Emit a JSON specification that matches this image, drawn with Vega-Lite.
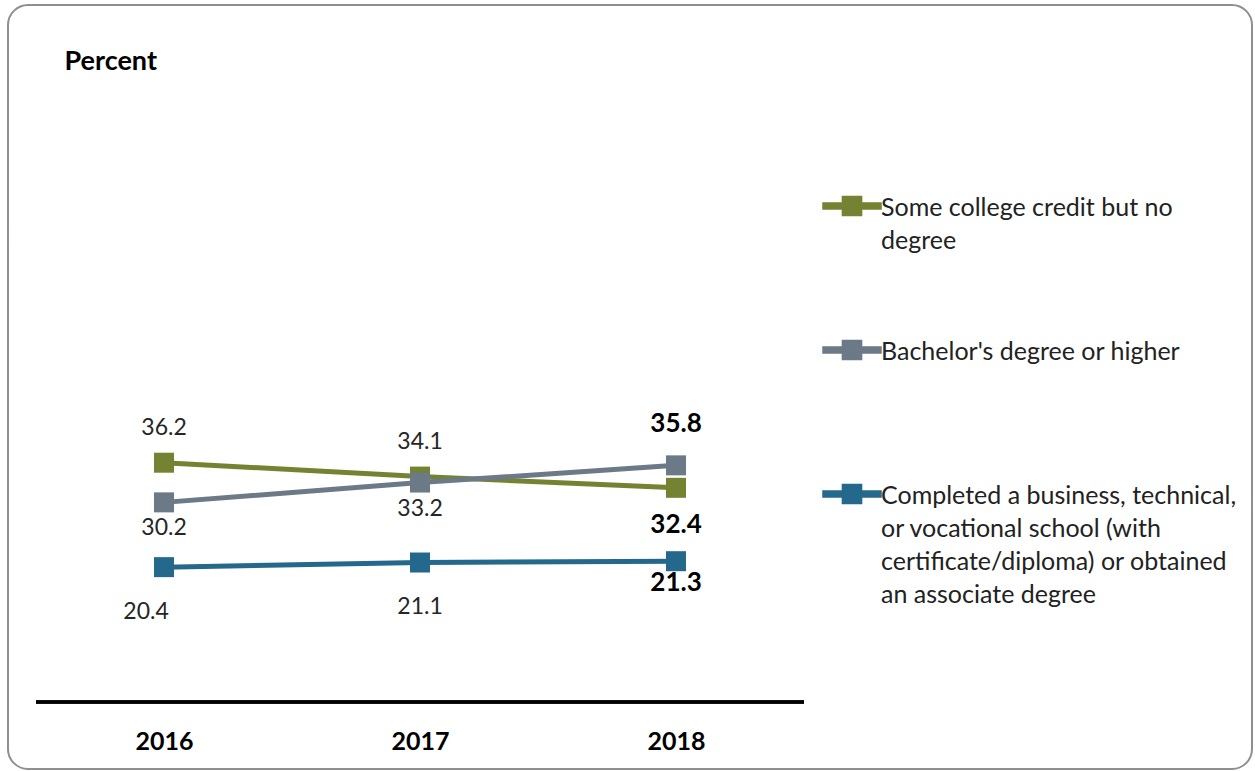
{
  "$schema": "https://vega.github.io/schema/vega-lite/v6.json",
  "autosize": "none",
  "width": 1244,
  "height": 764,
  "padding": {"left": 8, "top": 5, "right": 3, "bottom": 2},
  "background": "white",
  "config": {
    "view": {"stroke": "#8f8f8f", "strokeWidth": 2, "cornerRadius": 20},
    "font": "Lato"
  },
  "data": {
    "values": [
      {"series": "Some college credit but no degree", "year": 2016, "pct": 36.2},
      {"series": "Some college credit but no degree", "year": 2017, "pct": 34.1},
      {"series": "Some college credit but no degree", "year": 2018, "pct": 32.4},
      {"series": "Bachelor's degree or higher", "year": 2016, "pct": 30.2},
      {"series": "Bachelor's degree or higher", "year": 2017, "pct": 33.2},
      {"series": "Bachelor's degree or higher", "year": 2018, "pct": 35.8},
      {"series": "Completed a business, technical, or vocational school (with certificate/diploma) or obtained an associate degree", "year": 2016, "pct": 20.4},
      {"series": "Completed a business, technical, or vocational school (with certificate/diploma) or obtained an associate degree", "year": 2017, "pct": 21.1},
      {"series": "Completed a business, technical, or vocational school (with certificate/diploma) or obtained an associate degree", "year": 2018, "pct": 21.3}
    ]
  },
  "encoding": {
    "x": {
      "field": "year", "type": "quantitative",
      "scale": {"domain": [2015.3906, 2020.25], "nice": false, "zero": false},
      "axis": {"values": [2016, 2017, 2018], "format": "d", "title": null, "domain": false, "ticks": false, "grid": false,
               "labelFont": "Lato", "labelFontWeight": "bold", "labelFontSize": 25, "labelColor": "#000000",
               "labelBaseline": "middle", "labelPadding": -28}
    },
    "y": {
      "field": "pct", "type": "quantitative",
      "scale": {"domain": [-10.14, 105.45], "nice": false, "zero": false},
      "axis": {"title": "Percent", "domain": false, "ticks": false, "labels": false, "grid": false,
               "titleAngle": 0, "titleAlign": "left", "titleBaseline": "middle", "titleX": 56, "titleY": 56,
               "titleFont": "Lato", "titleFontSize": 27, "titleFontWeight": "bold", "titleColor": "#000000"}
    },
    "color": {
      "field": "series", "type": "nominal",
      "scale": {
        "domain": ["Some college credit but no degree", "Bachelor's degree or higher", "Completed a business, technical, or vocational school (with certificate/diploma) or obtained an associate degree"],
        "range": ["#748332", "#6C7987", "#24688B"]
      },
      "legend": {
        "orient": "none", "legendX": 814, "legendY": 171, "title": null, "padding": 0,
        "symbolType": "M-1,-0.1H1V0.1H-1Z M-0.33,-0.33H0.33V0.33H-0.33Z",
        "symbolSize": 3364,
        "labelFont": "Lato", "labelFontSize": 25, "labelColor": "#222222", "labelOffset": -1, "labelLimit": 500,
        "labelBaseline": "top", "gridAlign": "all", "rowPadding": -8,
        "labelExpr": "datum.label == 'Some college credit but no degree' ? ['Some college credit but no', 'degree'] : datum.label == 'Completed a business, technical, or vocational school (with certificate/diploma) or obtained an associate degree' ? ['Completed a business, technical,', 'or vocational school (with', 'certificate/diploma) or obtained', 'an associate degree'] : datum.label",
        "encode": {
          "symbols": {"update": {"fill": {"scale": "color", "field": "value"}, "stroke": {"value": "transparent"}, "opacity": {"value": 1}}},
          "labels": {"update": {"lineHeight": {"value": 33}, "dy": {"value": -10}}}
        }
      }
    }
  },
  "layer": [
    {
      "mark": {"type": "rule", "strokeWidth": 2.5, "color": "#000000"},
      "encoding": {"x": {"datum": 2015.5}, "x2": {"datum": 2018.5}, "y": {"datum": 0}, "color": {"value": "#000000"}}
    },
    {"mark": {"type": "line", "strokeWidth": 5}},
    {"mark": {"type": "point", "shape": "square", "filled": true, "size": 400, "opacity": 1}},
    {
      "transform": [{"filter": "datum.series == 'Some college credit but no degree' && datum.year < 2018"}],
      "mark": {"type": "text", "font": "Lato", "fontSize": 23, "dy": -35},
      "encoding": {"text": {"field": "pct", "format": ".1f"}, "color": {"value": "#262626"}}
    },
    {
      "transform": [{"filter": "datum.series == \"Bachelor's degree or higher\" && datum.year == 2018"}],
      "mark": {"type": "text", "font": "Lato", "fontSize": 26, "fontWeight": "bold", "dy": -41},
      "encoding": {"text": {"field": "pct", "format": ".1f"}, "color": {"value": "#000000"}}
    },
    {
      "transform": [{"filter": "datum.series == \"Bachelor's degree or higher\" && datum.year < 2018"}],
      "mark": {"type": "text", "font": "Lato", "fontSize": 23, "dy": 26},
      "encoding": {"text": {"field": "pct", "format": ".1f"}, "color": {"value": "#262626"}}
    },
    {
      "transform": [{"filter": "datum.series == 'Some college credit but no degree' && datum.year == 2018"}],
      "mark": {"type": "text", "font": "Lato", "fontSize": 26, "fontWeight": "bold", "dy": 37},
      "encoding": {"text": {"field": "pct", "format": ".1f"}, "color": {"value": "#000000"}}
    },
    {
      "transform": [{"filter": "datum.pct < 25 && datum.year == 2016"}],
      "mark": {"type": "text", "font": "Lato", "fontSize": 23, "dy": 45, "dx": -18},
      "encoding": {"text": {"field": "pct", "format": ".1f"}, "color": {"value": "#262626"}}
    },
    {
      "transform": [{"filter": "datum.pct < 25 && datum.year == 2017"}],
      "mark": {"type": "text", "font": "Lato", "fontSize": 23, "dy": 44},
      "encoding": {"text": {"field": "pct", "format": ".1f"}, "color": {"value": "#262626"}}
    },
    {
      "transform": [{"filter": "datum.pct < 25 && datum.year == 2018"}],
      "mark": {"type": "text", "font": "Lato", "fontSize": 26, "fontWeight": "bold", "dy": 22},
      "encoding": {"text": {"field": "pct", "format": ".1f"}, "color": {"value": "#000000"}}
    }
  ]
}
